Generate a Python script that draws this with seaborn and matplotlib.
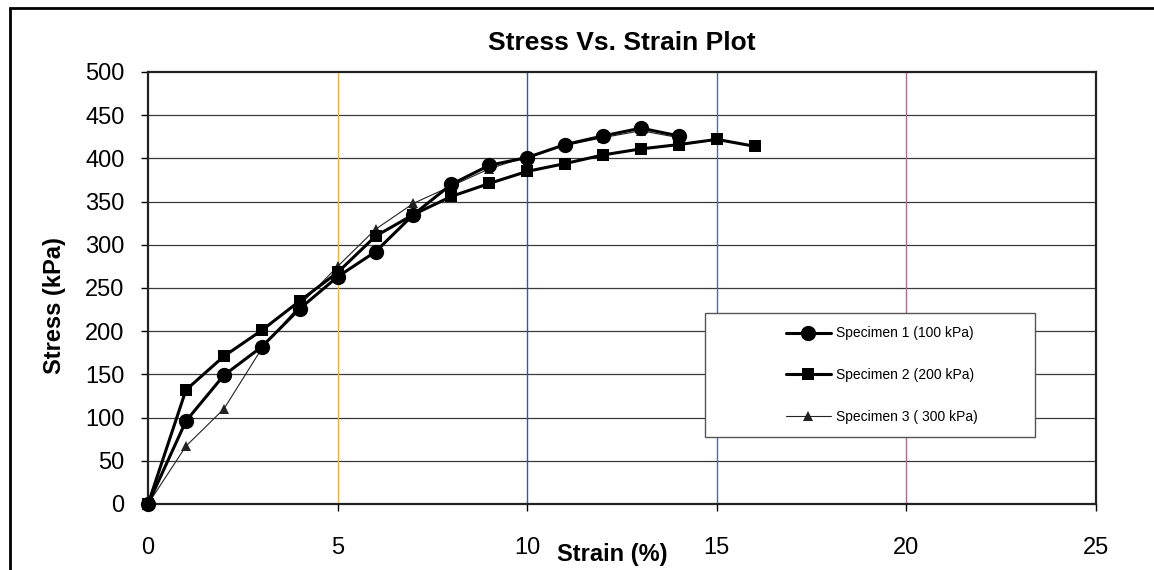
import matplotlib
matplotlib.use('Agg')
import matplotlib.pyplot as plt
import seaborn as sns
from matplotlib.patches import Rectangle

# Data
strain_1 = [0, 1, 2, 3, 4, 5, 6, 7, 8, 9, 10, 11, 12, 13, 14]
stress_1 = [0, 96, 149, 182, 226, 263, 292, 335, 370, 392, 401, 416, 426, 435, 426]

strain_2 = [0, 1, 2, 3, 4, 5, 6, 7, 8, 9, 10, 11, 12, 13, 14, 15, 16]
stress_2 = [0, 132, 171, 201, 235, 268, 310, 335, 356, 371, 385, 394, 404, 411, 416, 422, 414]

strain_3 = [0, 1, 2, 3, 4, 5, 6, 7, 8, 9, 10, 11, 12, 13, 14]
stress_3 = [0, 67, 110, 180, 230, 275, 318, 348, 368, 388, 402, 415, 424, 432, 424]

labels = ['Specimen 1 (100 kPa)', 'Specimen 2 (200 kPa)', 'Specimen 3 ( 300 kPa)']
x_ticks = [0, 5, 10, 15, 20, 25]
y_ticks = [0, 50, 100, 150, 200, 250, 300, 350, 400, 450, 500]

sns.set_style('white')
plt.rcParams['font.family'] = ['Liberation Sans', 'DejaVu Sans']
plt.rcParams['text.color'] = 'black'
plt.rcParams['axes.labelcolor'] = 'black'

fig = plt.figure(figsize=(11.54, 5.70), dpi=100)
ax = fig.add_axes([0.1283, 0.1158, 0.8214, 0.7579])

# scanned-looking grid
for y in y_ticks[1:-1]:
    ax.axhline(y, color='#3a3a3a', lw=0.9, zorder=0)
vcolors = {5: '#e6b24a', 10: '#3356b8', 15: '#3f6ad0', 20: '#a8708a'}
for x, c in vcolors.items():
    ax.axvline(x, color=c, lw=1.0, zorder=0)

sns.lineplot(x=strain_3, y=stress_3, ax=ax, color='#222222', lw=0.8,
             marker='^', markersize=7, markeredgewidth=0, label=labels[2],
             zorder=3, clip_on=False)
sns.lineplot(x=strain_2, y=stress_2, ax=ax, color='black', lw=2.2,
             marker='s', markersize=9, markeredgewidth=0, label=labels[1],
             zorder=4, clip_on=False)
sns.lineplot(x=strain_1, y=stress_1, ax=ax, color='black', lw=2.2,
             marker='o', markersize=11, markeredgewidth=0, label=labels[0],
             zorder=5, clip_on=False)

ax.set_xlim(0, 25)
ax.set_ylim(0, 500)
ax.set_xticks(x_ticks)
ax.set_yticks(y_ticks)
ax.tick_params(axis='both', labelsize=17, direction='out', length=5, width=1,
               color='black', labelcolor='black', left=True, bottom=True)
ax.tick_params(axis='y', pad=12)
ax.tick_params(axis='x', pad=19)
for s in ax.spines.values():
    s.set_color('#222222')
    s.set_linewidth(1.6)

ax.set_title('Stress Vs. Strain Plot', fontsize=19, fontweight='bold', pad=16)
ax.set_ylabel('Stress (kPa)', fontsize=17, fontweight='bold')
ax.yaxis.set_label_coords(-0.087, 0.46)
ax.set_xlabel('Strain (%)', fontsize=17, fontweight='bold')
ax.xaxis.set_label_coords(0.49, -0.09)

# legend box with empty room on the left, as in the original
ax.add_patch(Rectangle((0.5876, 0.155), 0.348, 0.287, transform=ax.transAxes,
                       facecolor='white', edgecolor='#555555', lw=1.0, zorder=6))
handles, lbls = ax.get_legend_handles_labels()
order = [lbls.index(l) for l in labels]
leg = ax.legend([handles[i] for i in order], [lbls[i] for i in order],
                loc='center left', bbox_to_anchor=(0.66, 0.298), frameon=False,
                fontsize=10, handlelength=3.2, labelspacing=2.0, handletextpad=0.4)
leg.set_zorder(7)

# outer chart border (cut off at right/bottom in the scan)
fig.add_artist(Rectangle((0.009, -0.05), 1.2, 1.036, transform=fig.transFigure,
                         fill=False, edgecolor='black', lw=2.0))

fig.savefig('out.png', dpi=100)
plt.close(fig)
